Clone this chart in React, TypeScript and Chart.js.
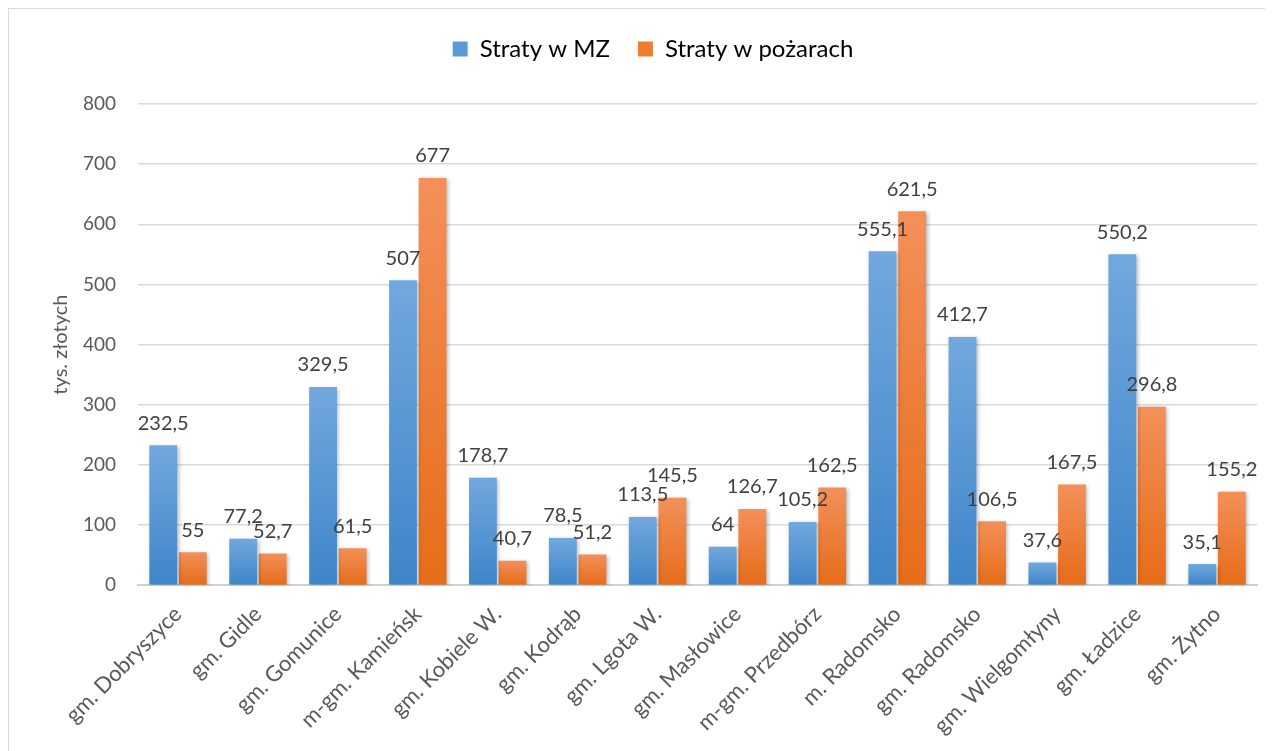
import React, { useEffect, useRef } from "react";
import { Chart, registerables } from "chart.js";

Chart.register(...registerables);

const categories = [
  "gm. Dobryszyce",
  "gm. Gidle",
  "gm. Gomunice",
  "m-gm. Kamieńsk",
  "gm. Kobiele W.",
  "gm. Kodrąb",
  "gm. Lgota W.",
  "gm. Masłowice",
  "m-gm. Przedbórz",
  "m. Radomsko",
  "gm. Radomsko",
  "gm. Wielgomłyny",
  "gm. Ładzice",
  "gm. Żytno",
];
const stratyMZ = [232.5, 77.2, 329.5, 507, 178.7, 78.5, 113.5, 64, 105.2, 555.1, 412.7, 37.6, 550.2, 35.1];
const stratyPozary = [55, 52.7, 61.5, 677, 40.7, 51.2, 145.5, 126.7, 162.5, 621.5, 106.5, 167.5, 296.8, 155.2];
const seriesNames = ["Straty w MZ", "Straty w pożarach"];
const yTicks = [0, 100, 200, 300, 400, 500, 600, 700, 800];
const yTitle = "tys. złotych";

const FONT = "Lato, 'Open Sans', sans-serif";

function gradientFor(light: string, dark: string) {
  return (ctx: any) => {
    const chart = ctx.chart;
    const y = chart.scales?.y;
    if (!y || ctx.raw == null) return dark;
    const top = y.getPixelForValue(ctx.raw);
    const bottom = y.getPixelForValue(0);
    if (!isFinite(top) || !isFinite(bottom) || top === bottom) return dark;
    const g = chart.ctx.createLinearGradient(0, top, 0, bottom);
    g.addColorStop(0, light);
    g.addColorStop(1, dark);
    return g;
  };
}

const fmt = (v: number) => String(v).replace(".", ",");

const legendGapPlugin = {
  id: "legendGap",
  beforeInit(chart: any) {
    const legend = chart.legend;
    if (!legend) return;
    const orig = legend.fit;
    legend.fit = function () {
      orig.call(this);
      this.height += 33;
    };
  },
};

const shadowPlugin = {
  id: "barShadow",
  beforeDatasetsDraw(chart: any) {
    const c = chart.ctx;
    c.save();
    c.shadowColor = "rgba(0,0,0,0.28)";
    c.shadowBlur = 4;
    c.shadowOffsetX = 1.5;
    c.shadowOffsetY = 1.5;
  },
  afterDatasetsDraw(chart: any) {
    chart.ctx.restore();
  },
};

const labelPlugin = {
  id: "valueLabels",
  afterDatasetsDraw(chart: any) {
    const c = chart.ctx;
    c.save();
    c.font = `20px ${FONT}`;
    c.fillStyle = "#404040";
    c.textAlign = "center";
    c.textBaseline = "bottom";
    chart.data.datasets.forEach((ds: any, di: number) => {
      const meta = chart.getDatasetMeta(di);
      meta.data.forEach((el: any, i: number) => {
        c.fillText(fmt(ds.data[i]), el.x, el.y - 12);
      });
    });
    c.restore();
  },
};

export default function App() {
  const ref = useRef<HTMLCanvasElement | null>(null);
  useEffect(() => {
    if (!ref.current) return;
    const chart = new Chart(ref.current, {
      type: "bar",
      data: {
        labels: categories,
        datasets: [
          {
            label: seriesNames[0],
            data: stratyMZ,
            backgroundColor: gradientFor("#71a8de", "#3e85c9"),
            borderWidth: 0,
            categoryPercentage: 0.74,
            barPercentage: 0.94,
          },
          {
            label: seriesNames[1],
            data: stratyPozary,
            backgroundColor: gradientFor("#f3905a", "#e66c18"),
            borderWidth: 0,
            categoryPercentage: 0.74,
            barPercentage: 0.94,
          },
        ],
      },
      options: {
        animation: false,
        responsive: false,
        layout: { padding: { left: 40, right: 8, top: 0, bottom: 0 } },
        plugins: {
          legend: {
            position: "top",
            labels: {
              font: { family: FONT, size: 24 },
              color: "#595959",
              boxWidth: 15,
              boxHeight: 15,
              padding: 28,
              generateLabels: (chart: any) =>
                chart.data.datasets.map((ds: any, i: number) => ({
                  text: ds.label,
                  fillStyle: i === 0 ? "#5b9bd5" : "#ed7d31",
                  strokeStyle: "transparent",
                  lineWidth: 0,
                  datasetIndex: i,
                  hidden: false,
                })),
            },
          },
          tooltip: { enabled: false },
        },
        scales: {
          x: {
            grid: { display: false },
            border: { color: "#d0d0d0", width: 2 },
            ticks: {
              font: { family: FONT, size: 22 },
              color: "#595959",
              maxRotation: 45,
              minRotation: 45,
              autoSkip: false,
              padding: 8,
            },
          },
          y: {
            min: 0,
            max: 800,
            afterBuildTicks: (axis: any) => {
              axis.ticks = yTicks.map((v) => ({ value: v }));
            },
            afterFit: (axis: any) => {
              axis.width -= 12;
            },
            grid: { color: "#d9d9d9", lineWidth: 1.5, drawTicks: false },
            border: { display: false },
            ticks: {
              font: { family: FONT, size: 19 },
              color: "#595959",
              padding: 22,
            },
            title: {
              display: true,
              text: yTitle,
              font: { family: FONT, size: 20 },
              color: "#595959",
              padding: { top: 0, bottom: 0 },
            },
          },
        },
      },
      plugins: [legendGapPlugin, shadowPlugin, labelPlugin],
    });
    return () => chart.destroy();
  }, []);
  return (
    <div style={{ width: 1258, height: 780, border: "1px solid #d9d9d9", boxSizing: "border-box" }}>
      <canvas ref={ref} width={1256} height={738} style={{ display: "block" }} />
    </div>
  );
}
